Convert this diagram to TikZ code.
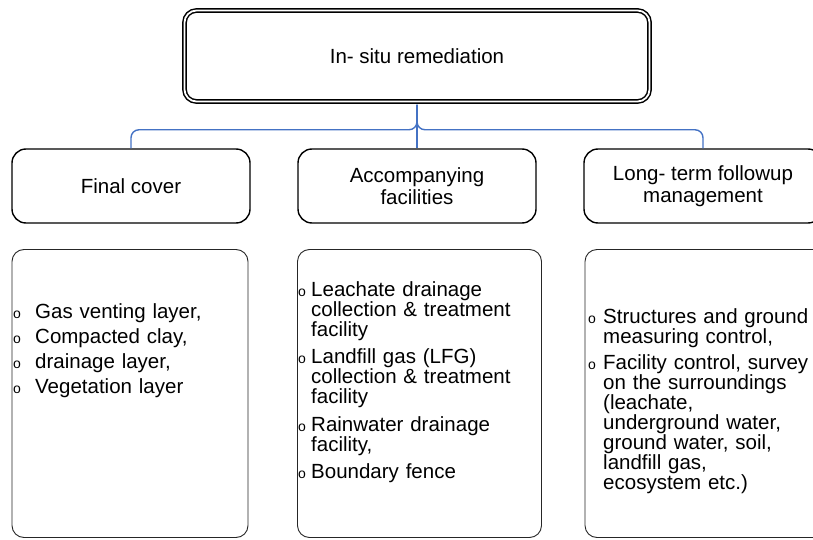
\documentclass[tikz,border=0pt]{standalone}
\usepackage{fontspec}
\setmainfont{Liberation Sans}
\definecolor{linkblue}{RGB}{68,114,196}

% Space from the bullet to its text, and extra space between two items
\newlength{\bulletgap}
\newlength{\itemgap}
% One item: a small "o", then the text hanging after it
\newcommand{\bitem}[1]{%
  \noindent\makebox[\bulletgap][l]{\fontsize{14}{14}\selectfont o}%
  \parbox[t]{280pt}{#1}\par\vspace{\itemgap}%
}

\begin{document}
\begin{tikzpicture}[x=1pt, y=-1pt,
    topbox/.style={draw, double, line width=1.5pt, double distance=1.8pt,
      rounded corners=12pt, minimum width=465pt, minimum height=91pt,
      inner sep=0pt, font=\fontsize{20.5}{22}\selectfont},
    headbox/.style={draw, line width=1.4pt, rounded corners=14pt,
      minimum width=238pt, minimum height=74pt, inner sep=0pt,
      align=center, font=\fontsize{20.5}{22}\selectfont},
    listbox/.style={draw=black!85, line width=0.9pt, rounded corners=12pt,
      minimum height=288pt},
    itemlist/.style={inner sep=0pt, text width=300pt, anchor=base west,
      font=\fontsize{20.5}{20}\selectfont},
    link/.style={draw=linkblue, line width=1.4pt, rounded corners=8pt}
  ]
  % Page: 813 x 540, y pointing down; the right column runs off the edge
  \useasboundingbox (0,0) rectangle (813,540);

  % Root of the tree
  \node[topbox] (insitu) at (417,56) {In- situ remediation};

  % The three branches
  \node[headbox] (cover) at (131,186) {Final cover};
  \node[headbox] (facil) at (417,186) {Accompanying\\facilities};
  \node[headbox] (mgmt)  at (703,186) {Long- term followup\\management};

  % Blue elbow connectors from the root down to each branch
  \draw[link, shorten <=2.5pt] (insitu.south) -- ++(0,27.5) -| (cover.north);
  \draw[link, shorten <=2.5pt] (insitu.south) -- ++(0,27.5) -| (mgmt.north);
  \draw[link, shorten <=2.5pt] (insitu.south) -- (facil.north);

  % Boxes holding the item lists
  \node[listbox, minimum width=236pt] (coverbox) at (130,393.5) {};
  \node[listbox, minimum width=244pt] (facilbox) at (419.5,393.5) {};
  \node[listbox, minimum width=240pt] (mgmtbox)  at (705,393.5) {};

  % Item lists (first baseline given)
  \node[itemlist] (coverlist) at (13,318) {%
    \setlength{\bulletgap}{22pt}\setlength{\itemgap}{5pt}%
    \bitem{Gas venting layer,}
    \bitem{Compacted clay,}
    \bitem{drainage layer,}
    \bitem{Vegetation layer}};
  \node[itemlist] (facillist) at (298,296) {%
    \setlength{\bulletgap}{13pt}\setlength{\itemgap}{7.5pt}%
    \bitem{Leachate drainage\\collection \& treatment\\facility}
    \bitem{Landfill gas (LFG)\\collection \& treatment\\facility}
    \bitem{Rainwater drainage\\facility,}
    \bitem{Boundary fence}};
  \node[itemlist] (mgmtlist) at (588,323) {%
    \setlength{\bulletgap}{15pt}\setlength{\itemgap}{6pt}%
    \bitem{Structures and ground\\measuring control,}
    \bitem{Facility control, survey\\on the surroundings\\(leachate,\\
      underground water,\\ground water, soil,\\landfill gas,\\ecosystem etc.)}};
\end{tikzpicture}
\end{document}
